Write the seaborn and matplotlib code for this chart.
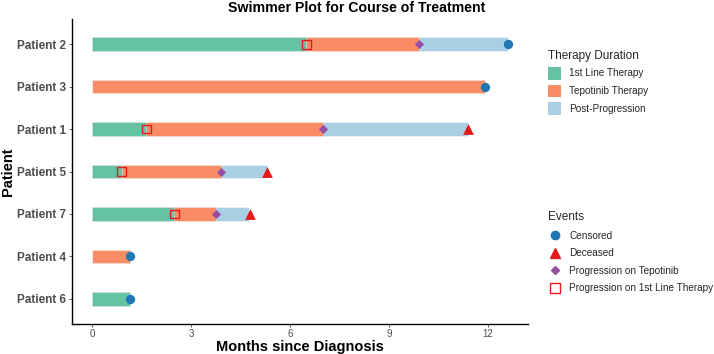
import matplotlib
matplotlib.use("Agg")
import matplotlib.pyplot as plt
from matplotlib.lines import Line2D
from matplotlib.patches import Patch
import seaborn as sns
import pandas as pd

patients = ["Patient 2", "Patient 3", "Patient 1", "Patient 5", "Patient 7", "Patient 4", "Patient 6"]
first_line_end = [6.5, 0.0, 1.65, 0.9, 2.5, 0.0, 1.15]
tepotinib_end = [9.9, 11.9, 7.0, 3.9, 3.75, 1.15, 1.15]
post_end = [12.6, 11.9, 11.4, 5.3, 4.75, 1.15, 1.15]

censored_pat = ["Patient 2", "Patient 3", "Patient 4", "Patient 6"]
censored_t = [12.6, 11.9, 1.15, 1.15]
deceased_pat = ["Patient 1", "Patient 5", "Patient 7"]
deceased_t = [11.4, 5.3, 4.8]
prog_tep_pat = ["Patient 2", "Patient 1", "Patient 5", "Patient 7"]
prog_tep_t = [9.9, 7.0, 3.9, 3.75]
prog_1l_pat = ["Patient 2", "Patient 1", "Patient 5", "Patient 7"]
prog_1l_t = [6.5, 1.65, 0.9, 2.5]

xticks = [0, 3, 6, 9, 12]

c_first = "#66C2A5"
c_tep = "#F88D65"
c_post = "#A8CFE4"

sns.set_theme(style="white")
plt.rcParams["font.family"] = ["Liberation Sans", "DejaVu Sans"]

fig = plt.figure(figsize=(7.14, 3.54), dpi=100)
ax = fig.add_axes([0.101, 0.085, 0.638, 0.861])

df = pd.DataFrame({"patient": patients, "first": first_line_end,
                   "tep": tepotinib_end, "post": post_end})
bh = 0.32
for col, c in [("post", c_post), ("tep", c_tep), ("first", c_first)]:
    sns.barplot(data=df, y="patient", x=col, order=patients, color=c,
                orient="h", width=bh, ax=ax, linewidth=0.6,
                edgecolor=(1, 1, 1, 0.45), saturation=1)

pos = {p: i for i, p in enumerate(patients)}

def ev_df(pats, ts):
    return pd.DataFrame({"t": ts, "y": [pos[p] for p in pats]})

sns.scatterplot(data=ev_df(prog_1l_pat, prog_1l_t), x="t", y="y", marker="s",
                s=40, facecolor="none", edgecolor="#E41A1C", linewidth=1.0, ax=ax, zorder=5)
sns.scatterplot(data=ev_df(prog_tep_pat, prog_tep_t), x="t", y="y", marker="D",
                s=22, color="#984EA3", linewidth=0, ax=ax, zorder=5)
sns.scatterplot(data=ev_df(deceased_pat, deceased_t), x="t", y="y", marker="^",
                s=60, color="#E31A1C", linewidth=0, ax=ax, zorder=5)
sns.scatterplot(data=ev_df(censored_pat, censored_t), x="t", y="y", marker="o",
                s=45, color="#1F78B4", linewidth=0, ax=ax, zorder=5)

ax.set_xlim(-0.6, 13.2)
ax.set_ylim(6.59, -0.59)
ax.set_xticks(xticks)
ax.set_xticklabels([str(v) for v in xticks])
ax.set_yticks(range(len(patients)))
ax.set_yticklabels(patients)
for s in ["top", "right"]:
    ax.spines[s].set_visible(False)
for s in ["left", "bottom"]:
    ax.spines[s].set_color("black")
    ax.spines[s].set_linewidth(1.0)
ax.tick_params(axis="x", colors="#4D4D4D", labelsize=7, length=2.5, width=0.6, pad=1,
               bottom=True)
ax.tick_params(axis="y", colors="#4D4D4D", labelsize=8.5, length=2.5, width=0.6, pad=2,
               left=True)
for lab in ax.get_yticklabels():
    lab.set_fontweight("bold")
ax.set_xlabel("Months since Diagnosis", fontsize=10.5, fontweight="bold", color="black", labelpad=1)
ax.set_ylabel("Patient", fontsize=10.5, fontweight="bold", color="black", labelpad=1)
fig.text(0.5, 0.996, "Swimmer Plot for Course of Treatment", fontsize=10.2,
         fontweight="bold", color="black", ha="center", va="top")

h1 = [Patch(facecolor=c_first, edgecolor="none"),
      Patch(facecolor=c_tep, edgecolor="none"),
      Patch(facecolor=c_post, edgecolor="none")]
leg1 = fig.legend(h1, ["1st Line Therapy", "Tepotinib Therapy", "Post-Progression"],
                  title="Therapy Duration", loc="upper left", bbox_to_anchor=(0.755, 0.885),
                  frameon=False, fontsize=7.2, title_fontsize=8.5, handlelength=1.3,
                  handleheight=1.6, labelspacing=0.5, alignment="left")
h2 = [Line2D([], [], marker="o", color="#1F78B4", linestyle="none", markersize=6),
      Line2D([], [], marker="^", color="#E31A1C", linestyle="none", markersize=7),
      Line2D([], [], marker="D", color="#984EA3", linestyle="none", markersize=4),
      Line2D([], [], marker="s", markerfacecolor="none", markeredgecolor="#E41A1C",
             linestyle="none", markersize=6.5, markeredgewidth=1.0)]
leg2 = fig.legend(h2, ["Censored", "Deceased", "Progression on Tepotinib",
                       "Progression on 1st Line Therapy"],
                  title="Events", loc="upper left", bbox_to_anchor=(0.755, 0.428),
                  frameon=False, fontsize=7.2, title_fontsize=8.5, handlelength=1.3,
                  labelspacing=0.75, alignment="left")

fig.savefig("out.png", dpi=100)
